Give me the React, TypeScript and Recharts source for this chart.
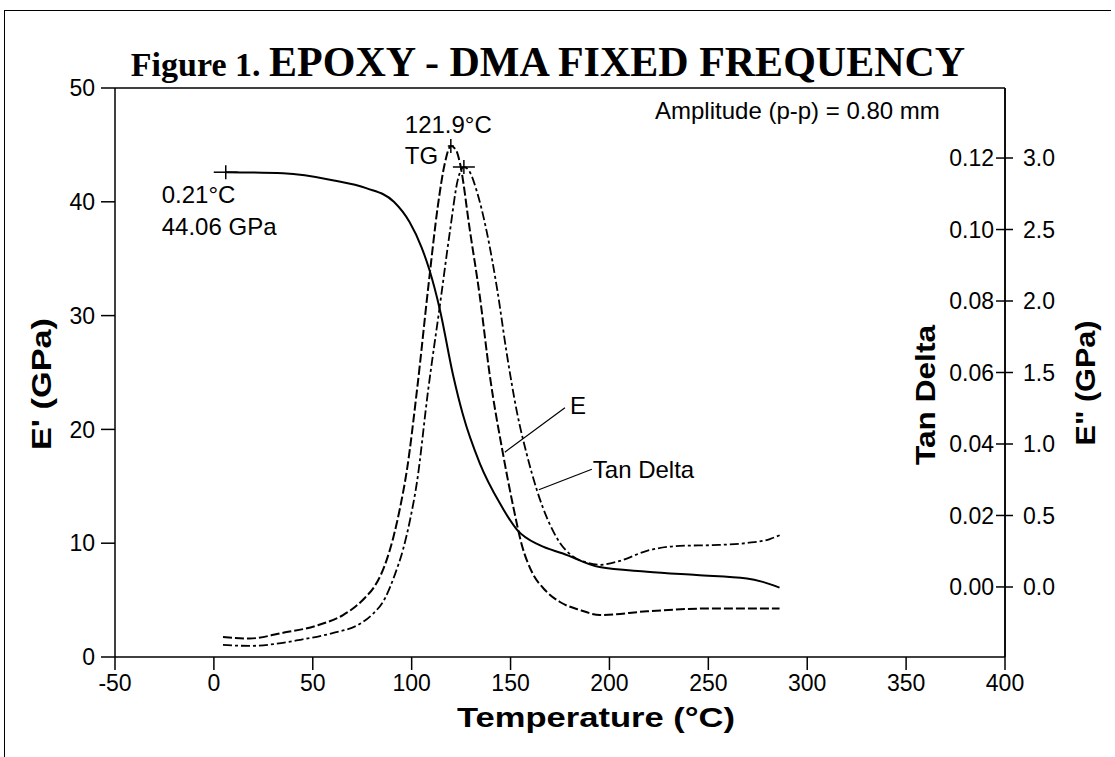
import React from 'react';
import { LineChart, Line, XAxis, YAxis, ReferenceLine, ReferenceDot } from 'recharts';

// E' storage modulus (GPa) – solid line, left axis
const storageTemp = [6, 35, 60, 77, 91, 99, 105, 109, 114.3, 120.9, 125.9, 134.5, 144.6, 153.2, 165, 176.5, 195, 219, 244, 269.5, 277.5, 286];
const storageGPa = [42.6, 42.5, 41.9, 41.2, 40.0, 38.2, 36.0, 34.0, 30.5, 24.8, 21.3, 17.0, 13.5, 11.2, 9.8, 9.1, 7.9, 7.5, 7.2, 6.9, 6.6, 6.1];

// E" loss modulus (GPa) – dashed line, outer right axis
const lossTemp = [4.6, 18, 35, 52, 65.3, 71.3, 76.4, 81.5, 86.5, 90.6, 94.1, 97.6, 102.7, 108.8, 113.3, 116.8, 119.8, 122.4, 124.4, 129.4, 134.5, 139.5, 146.1, 151.2, 155.7, 160.8, 167.4, 175, 185.1, 195.2, 219, 252, 286];
const lossGPa = [-0.35, -0.36, -0.32, -0.27, -0.196, -0.14, -0.075, 0.01, 0.155, 0.34, 0.552, 0.818, 1.378, 2.147, 2.671, 2.965, 3.084, 3.056, 2.965, 2.497, 2.028, 1.48, 0.937, 0.573, 0.294, 0.105, -0.021, -0.105, -0.161, -0.196, -0.17, -0.15, -0.15];

// tan delta – dash-dot line, inner right axis
const tanTemp = [4.6, 18, 43.5, 60, 73.9, 79.9, 86.5, 91.6, 95.6, 99.2, 102.7, 108.2, 114.3, 119.3, 123.4, 126.4, 129.4, 133, 138.1, 143.2, 148.2, 153.2, 158.3, 163.3, 168.9, 175, 181.1, 187.6, 195.2, 205.3, 218.9, 235.6, 252.3, 269.5, 281.1, 286.2];
const tanDelta = [-0.0162, -0.0165, -0.0148, -0.0129, -0.0103, -0.0078, -0.0032, 0.0036, 0.0104, 0.0188, 0.0294, 0.0545, 0.0789, 0.0993, 0.1141, 0.1175, 0.1161, 0.1106, 0.099, 0.0834, 0.0649, 0.049, 0.0369, 0.0271, 0.0187, 0.0123, 0.0087, 0.007, 0.0062, 0.0073, 0.0101, 0.0115, 0.0117, 0.0123, 0.0134, 0.0145];

const tempTicks = [-50, 0, 50, 100, 150, 200, 250, 300, 350, 400];
const storageTicks = [0, 10, 20, 30, 40, 50];
const tanTicks = [0, 0.02, 0.04, 0.06, 0.08, 0.1, 0.12];
const lossTicks = [0, 0.5, 1, 1.5, 2, 2.5, 3];

const storageData = storageTemp.map((t, i) => ({ t, v: storageGPa[i] }));
const lossData = lossTemp.map((t, i) => ({ t, v: lossGPa[i] }));
const tanData = tanTemp.map((t, i) => ({ t, v: tanDelta[i] }));

const FONT = '"Liberation Sans", Arial, sans-serif';
const tickStyle = { fontSize: 23, fill: '#000', fontFamily: FONT };

const cross = (w: number, h: number, texts: { dx: number; dy: number; s: string }[] = []) =>
  (p: any) => (
    <g>
      <line x1={p.cx - w} x2={p.cx + w} y1={p.cy} y2={p.cy} stroke="#000" strokeWidth={1.5} />
      <line x1={p.cx} x2={p.cx} y1={p.cy - h} y2={p.cy + h} stroke="#000" strokeWidth={1.5} />
      {texts.map((tx) => (
        <text key={tx.s} x={p.cx + tx.dx} y={p.cy + tx.dy} dominantBaseline="central" fontSize={24} fontFamily={FONT} fill="#000">
          {tx.s}
        </text>
      ))}
    </g>
  );

const note = (s: string, dx: number, dy: number) => (p: any) => (
  <text x={p.cx + dx} y={p.cy + dy} dominantBaseline="central" fontSize={24} fontFamily={FONT} fill="#000">
    {s}
  </text>
);

const axisTitle = { fontSize: 28, fontWeight: 'bold' as const, fontFamily: FONT, fill: '#000' };

export default function App() {
  return (
    <div style={{ position: 'absolute', left: 0, top: 0, width: 1115, height: 757, background: '#fff' }}>
      <div style={{ position: 'absolute', left: 4, top: 10, width: 1106, height: 747, borderLeft: '1.5px solid #000', borderTop: '1.5px solid #000' }} />
      <LineChart width={1115} height={757} margin={{ top: 88, right: 50, bottom: 30, left: 55 }} style={{ fontFamily: FONT }}>
        <XAxis
          type="number"
          dataKey="t"
          domain={[-50, 400]}
          ticks={tempTicks}
          allowDataOverflow
          height={70}
          tickSize={13}
          tickMargin={5}
          tick={tickStyle}
          stroke="#000"
          strokeWidth={1.5}
        />
        <YAxis
          yAxisId="left"
          domain={[0, 50]}
          ticks={storageTicks}
          allowDataOverflow
          width={60}
          tickSize={14}
          tickMargin={6}
          tick={tickStyle}
          stroke="#000"
          strokeWidth={1.5}
        />
        <YAxis
          yAxisId="e2"
          orientation="right"
          width={60}
          domain={[-0.4895, 3.4895]}
          ticks={lossTicks}
          allowDataOverflow
          tickFormatter={(v: number) => v.toFixed(1)}
          tickSize={8}
          tickMargin={10}
          tick={tickStyle}
          stroke="#000"
          strokeWidth={1.5}
        />
        <YAxis
          yAxisId="td"
          orientation="right"
          mirror
          width={60}
          domain={[-0.0196, 0.1396]}
          ticks={tanTicks}
          allowDataOverflow
          tickFormatter={(v: number) => v.toFixed(2)}
          tickSize={9}
          tickMargin={2}
          tick={tickStyle}
          stroke="#000"
          strokeWidth={1.5}
        />
        <ReferenceLine yAxisId="left" y={50} stroke="#000" strokeWidth={1.5} />

        <Line yAxisId="left" data={storageData} dataKey="v" type="monotone" stroke="#000" strokeWidth={2} dot={false} isAnimationActive={false} />
        <Line yAxisId="e2" data={lossData} dataKey="v" type="monotone" stroke="#000" strokeWidth={2} strokeDasharray="9 3" dot={false} isAnimationActive={false} />
        <Line yAxisId="td" data={tanData} dataKey="v" type="monotone" stroke="#000" strokeWidth={1.8} strokeDasharray="9 3 3 3" dot={false} isAnimationActive={false} />

        <ReferenceDot yAxisId="left" x={storageTemp[0]} y={storageGPa[0]} r={0}
          shape={cross(12, 7, [{ dx: -64, dy: 22, s: '0.21°C' }, { dx: -64, dy: 54, s: '44.06 GPa' }])} />
        <ReferenceDot yAxisId="e2" x={119.8} y={3.084} r={0}
          shape={cross(3, 7, [{ dx: -46, dy: -21, s: '121.9°C' }, { dx: -46, dy: 10, s: 'TG' }])} />
        <ReferenceDot yAxisId="td" x={126.4} y={0.1175} r={0} shape={cross(11, 7)} />

        <ReferenceLine yAxisId="left" segment={[{ x: 147.1, y: 18.0 }, { x: 177.5, y: 21.9 }]} stroke="#000" strokeWidth={1.2} />
        <ReferenceLine yAxisId="left" segment={[{ x: 164.3, y: 14.7 }, { x: 191.1, y: 16.5 }]} stroke="#000" strokeWidth={1.2} />
        <ReferenceDot yAxisId="left" x={177.5} y={21.9} r={0} shape={note('E', 5, -2)} />
        <ReferenceDot yAxisId="left" x={191.1} y={16.5} r={0} shape={note('Tan Delta', 1, 0)} />
      </LineChart>
      <svg width={1115} height={757} style={{ position: 'absolute', left: 0, top: 0, pointerEvents: 'none' }}>
        <text x={548} y={76} textAnchor="middle" fontFamily='"Liberation Serif", "Times New Roman", serif' fontWeight="bold" fill="#000">
          <tspan fontSize={34}>Figure 1. </tspan>
          <tspan fontSize={42}>EPOXY - DMA FIXED FREQUENCY</tspan>
        </text>
        <text x={655} y={110} dominantBaseline="central" fontSize={24} fontFamily={FONT} fill="#000">Amplitude (p-p) = 0.80 mm</text>
        <text x={596} y={717} textAnchor="middle" dominantBaseline="central" textLength={278} lengthAdjust="spacingAndGlyphs" {...axisTitle}>Temperature (°C)</text>
        <text transform="translate(41 384) rotate(-90)" textAnchor="middle" dominantBaseline="central" textLength={132} lengthAdjust="spacingAndGlyphs" {...axisTitle}>E' (GPa)</text>
        <text transform="translate(925 395) rotate(-90)" textAnchor="middle" dominantBaseline="central" textLength={140} lengthAdjust="spacingAndGlyphs" {...axisTitle}>Tan Delta</text>
        <text transform="translate(1085 383) rotate(-90)" textAnchor="middle" dominantBaseline="central" textLength={125} lengthAdjust="spacingAndGlyphs" {...axisTitle}>E" (GPa)</text>
      </svg>
    </div>
  );
}
